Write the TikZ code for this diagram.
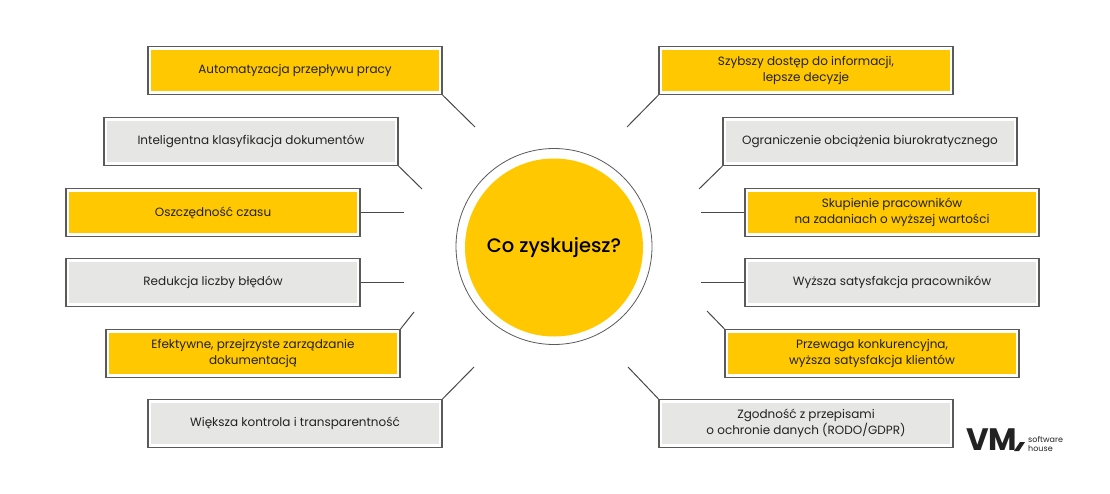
\documentclass[tikz,border=0pt]{standalone}
\usepackage{fontspec}
\setmainfont{Poppins}
\newfontfamily\titlefont{Poppins Medium}
\usetikzlibrary{calc}
\definecolor{boxyellow}{HTML}{FFC800}
\definecolor{boxgrey}{HTML}{E6E6E4}
\definecolor{framegrey}{HTML}{5A5A5A}
\definecolor{inktext}{HTML}{222222}
\tikzstyle{framebox}=[rectangle,draw=framegrey,fill=white,line width=1.1pt,
                      minimum width=294pt,minimum height=48pt,inner sep=0pt,
                      align=center,text=inktext,
                      font=\fontsize{12}{16.5}\selectfont]
\tikzstyle{yellowbox}=[framebox,path picture={\fill[boxyellow]
    ([shift={(3.2pt,3.2pt)}]path picture bounding box.south west) rectangle
    ([shift={(-3.2pt,-3.2pt)}]path picture bounding box.north east);}]
\tikzstyle{greybox}=[framebox,path picture={\fill[boxgrey]
    ([shift={(3.2pt,3.2pt)}]path picture bounding box.south west) rectangle
    ([shift={(-3.2pt,-3.2pt)}]path picture bounding box.north east);}]
\tikzstyle{spoke}=[draw=framegrey!80!black,line width=1pt]
\begin{document}
\begin{tikzpicture}[x=1pt,y=-1pt]
    \useasboundingbox (0,0) rectangle (1110,494);

    % middle
    \node [circle,draw=framegrey,line width=0.8pt,minimum size=196pt,inner sep=0pt] (ring) at (554,246.5) {};
    \node [circle,fill=boxyellow,minimum size=178pt,inner sep=0pt,text=black,
           font=\fontsize{19.5}{22}\titlefont] (zysk) at (554,247.5) {Co zyskujesz?};

    % left column
    \node [yellowbox] (automat) at (295,70.5) {Automatyzacja przepływu pracy};
    \node [greybox] (klasyf) at (251,141.5) {Inteligentna klasyfikacja dokumentów};
    \node [yellowbox] (czas) at (213,212.5) {Oszczędność czasu};
    \node [greybox] (bledy) at (213,282.5) {Redukcja liczby błędów};
    \node [yellowbox] (zarzad) at (253,353.5) {Efektywne, przejrzyste zarządzanie\\dokumentacją};
    \node [greybox] (kontrola) at (295,423.5) {Większa kontrola i transparentność};

    % right column
    \node [yellowbox] (dostep) at (806,70.5) {Szybszy dostęp do informacji,\\lepsze decyzje};
    \node [greybox] (biuro) at (870,141.5) {Ograniczenie obciążenia biurokratycznego};
    \node [yellowbox] (skupienie) at (892,212.5) {Skupienie pracowników\\na zadaniach o wyższej wartości};
    \node [greybox] (satysf) at (892,282.5) {Wyższa satysfakcja pracowników};
    \node [yellowbox] (przewaga) at (872,353.5) {Przewaga konkurencyjna,\\wyższa satysfakcja klientów};
    \node [greybox] (rodo) at (806,423.5) {Zgodność z przepisami\\o ochronie danych (RODO/GDPR)};

    % free ends of the spokes
    \coordinate (a1) at (475,127);
    \coordinate (a2) at (422,189);
    \coordinate (a3) at (404,212.5);
    \coordinate (a4) at (404,282.5);
    \coordinate (a5) at (414,312);
    \coordinate (a6) at (474,367);
    \coordinate (b1) at (627,127);
    \coordinate (b2) at (699,189);
    \coordinate (b3) at (701,212.5);
    \coordinate (b4) at (701,282.5);
    \coordinate (b5) at (707,311);
    \coordinate (b6) at (628,367);

    \draw [spoke] (automat.south east) -- (a1);
    \draw [spoke] (klasyf.south east) -- (a2);
    \draw [spoke] (czas.east) -- (a3);
    \draw [spoke] (bledy.east) -- (a4);
    \draw [spoke] (zarzad.north east) -- (a5);
    \draw [spoke] (kontrola.north east) -- (a6);
    \draw [spoke] (dostep.south west) -- (b1);
    \draw [spoke] (biuro.south west) -- (b2);
    \draw [spoke] (skupienie.west) -- (b3);
    \draw [spoke] (satysf.west) -- (b4);
    \draw [spoke] (przewaga.north west) -- (b5);
    \draw [spoke] (rodo.north west) -- (b6);

    % logo
    \node [inner sep=0pt,anchor=west,text=inktext,font=\fontsize{31}{31}\selectfont\bfseries] (vm) at (966,440) {VM};
    \fill [inktext] (1014,451) -- (1019,451) -- (1025,442) -- (1020,442) -- cycle;
    \node [inner sep=0pt,anchor=west,align=left,text=inktext,
           font=\fontsize{8}{9}\selectfont] (house) at (1028,444) {software\\house};
\end{tikzpicture}
\end{document}
